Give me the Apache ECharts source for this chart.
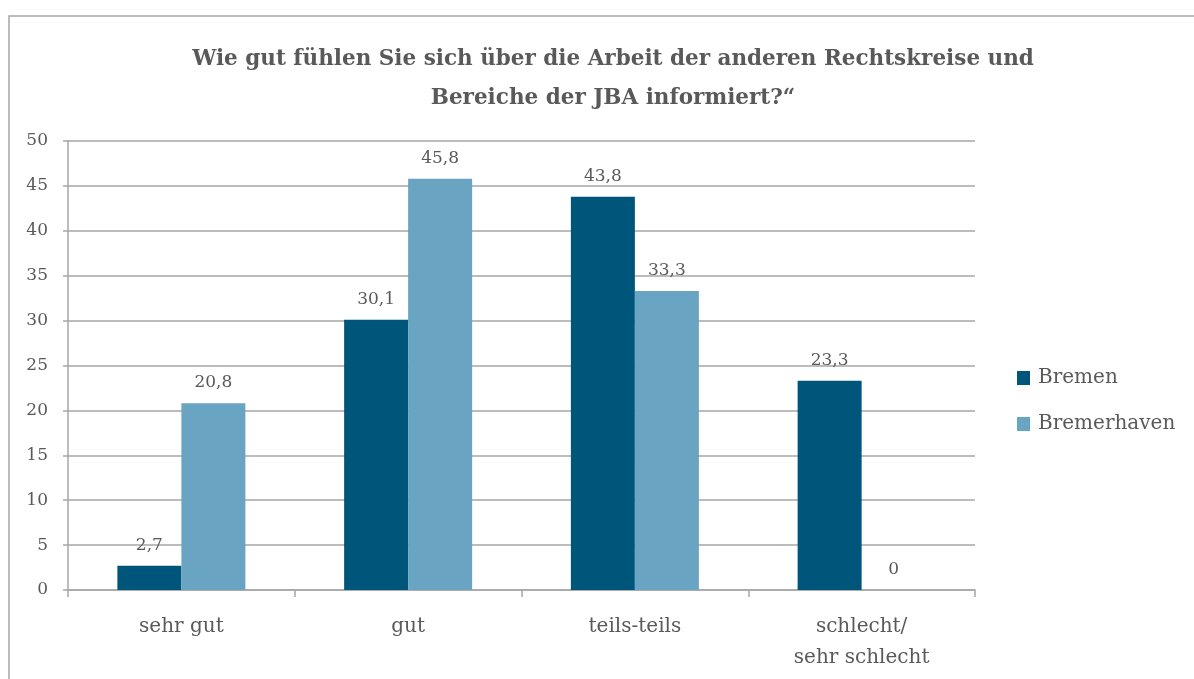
<!DOCTYPE html>
<html>
<head>
<meta charset="utf-8">
<script src="https://cdn.jsdelivr.net/npm/echarts@6/dist/echarts.min.js"></script>
<style>
  html, body { margin: 0; padding: 0; background: #fff; }
  #chart { width: 1194px; height: 679px; }
</style>
</head>
<body>
<div id="chart"></div>
<script>
const categories = ['sehr gut', 'gut', 'teils-teils', 'schlecht/\nsehr schlecht']
const bremen = [2.7, 30.1, 43.8, 23.3]
const bremerhaven = [20.8, 45.8, 33.3, 0]
const seriesNames = ['Bremen', 'Bremerhaven']

const font = 'DejaVu Serif'
const textColor = '#595959'
const lineColor = '#a6a6a6'

const chart = echarts.init(document.getElementById('chart'))

const label = {
  show: true,
  position: 'top',
  distance: 12,
  color: textColor,
  fontFamily: font,
  fontSize: 17,
  formatter: (p) => String(p.value).replace('.', ','),
}

chart.setOption({
  animation: false,
  textStyle: { fontFamily: font },
  graphic: [
    {
      type: 'rect',
      shape: { x: 9, y: 16, width: 1200, height: 700 },
      style: { fill: 'none', stroke: '#a6a6a6', lineWidth: 1.5 },
      z: -1,
    },
  ],
  title: {
    text: 'Wie gut fühlen Sie sich über die Arbeit der anderen Rechtskreise und\nBereiche der JBA informiert?“',
    left: 608,
    top: 35,
    textAlign: 'center',
    textStyle: {
      fontFamily: font,
      fontSize: 21.5,
      fontWeight: 'bold',
      color: textColor,
      lineHeight: 39,
    },
  },
  legend: {
    orient: 'vertical',
    left: 1017,
    top: 368,
    padding: 0,
    icon: 'rect',
    itemWidth: 13,
    itemHeight: 14,
    itemGap: 26,
    data: seriesNames,
    textStyle: { fontFamily: font, fontSize: 20, color: textColor, padding: [0, 0, 0, 3] },
  },
  grid: { left: 68, right: 219, top: 141, bottom: 89 },
  xAxis: {
    type: 'category',
    data: categories,
    axisLine: { lineStyle: { color: lineColor, width: 1.5 } },
    axisTick: { show: true, length: 7, lineStyle: { color: lineColor, width: 1.5 } },
    axisLabel: {
      color: textColor,
      fontFamily: font,
      fontSize: 20,
      lineHeight: 31,
      margin: 21,
      interval: 0,
    },
  },
  yAxis: {
    type: 'value',
    min: 0,
    max: 50,
    interval: 5,
    axisLine: { show: true, lineStyle: { color: lineColor, width: 1.5 } },
    axisTick: { show: true, length: 5, lineStyle: { color: lineColor, width: 1.5 } },
    splitLine: { lineStyle: { color: lineColor, width: 1.5 } },
    axisLabel: { color: textColor, fontFamily: font, fontSize: 17, margin: 20 },
  },
  series: [
    {
      name: seriesNames[0],
      type: 'bar',
      data: bremen,
      barWidth: 64,
      barGap: '0%',
      itemStyle: { color: '#00567a' },
      label,
    },
    {
      name: seriesNames[1],
      type: 'bar',
      data: bremerhaven,
      barWidth: 64,
      itemStyle: { color: '#69a4c2' },
      label,
    },
  ],
})
</script>
</body>
</html>
